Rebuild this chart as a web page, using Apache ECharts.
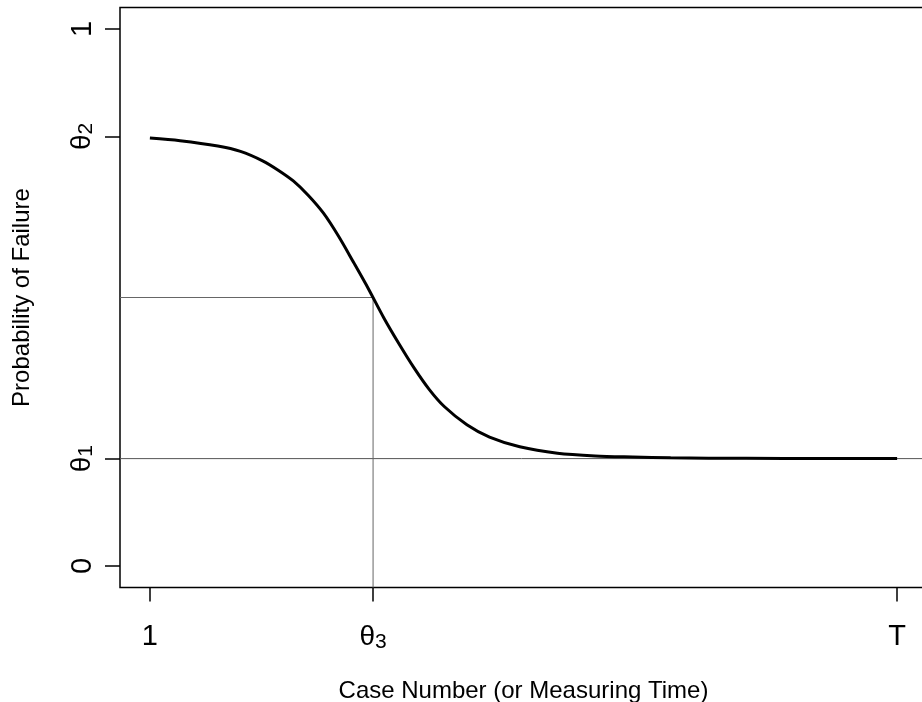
<!DOCTYPE html>
<html>
<head>
<meta charset="utf-8">
<script src="https://cdn.jsdelivr.net/npm/echarts@6/dist/echarts.min.js"></script>
<style>html,body{margin:0;padding:0;background:#fff;}#c{width:922px;height:702px;}</style>
</head>
<body>
<div id="c"></div>
<script>
// Curve
const curveX = [1, 5, 10, 13, 16, 18, 20, 22, 24, 26, 28, 30, 32, 34, 36, 38, 40, 43, 46, 50, 55, 60, 65, 70, 80, 90, 100];
const curveY = [0.797, 0.792, 0.782, 0.772, 0.754, 0.737, 0.717, 0.690, 0.657, 0.614, 0.565, 0.515, 0.462, 0.414, 0.369, 0.329, 0.297, 0.263, 0.240, 0.222, 0.210, 0.205, 0.203, 0.2015, 0.2005, 0.200, 0.200];

// Parameters / tick values
const theta1 = 0.2;
const theta2 = 0.8;
const theta3 = 30.57;
const midY = 0.5;
const xStart = 1;
const xEnd = 100;

const xTickValues = [1, theta3, 100];
const xTickLabels = ['1', '{t|θ}{s|3}', 'T'];
const yTickValues = [0, theta1, theta2, 1];
const yTickLabels = ['0', '{t|θ}{s|1}', '{t|θ}{s|2}', '1'];

const xPad = (xEnd - xStart) * 0.04;
const xMin = xStart - xPad, xMax = xEnd + xPad;
const yMin = -0.04, yMax = 1.04;

const FONT = '"Liberation Sans", Arial, Helvetica, sans-serif';
const rich = {
  t: { fontSize: 28, lineHeight: 30, fontFamily: FONT, color: '#000' },
  s: { fontSize: 21, lineHeight: 21, verticalAlign: 'bottom', fontFamily: FONT, color: '#000' }
};

function lookup(values, labels) {
  return function (v) {
    for (let i = 0; i < values.length; i++) {
      if (Math.abs(values[i] - v) < 1e-6) return labels[i];
    }
    return '';
  };
}

const chart = echarts.init(document.getElementById('c'), null, { renderer: 'canvas' });
chart.setOption({
  animation: false,
  backgroundColor: '#fff',
  grid: {
    left: 120, top: 7.5, width: 807, height: 580,
    outerBoundsMode: 'none', containLabel: false,
    show: true, borderColor: '#000', borderWidth: 1.5, backgroundColor: 'transparent'
  },
  xAxis: {
    type: 'value', min: xMin, max: xMax,
    splitLine: { show: false },
    axisLine: { show: false, onZero: false },
    axisTick: { show: true, length: 14, inside: false, customValues: xTickValues, lineStyle: { color: '#000', width: 1.5 } },
    axisLabel: {
      customValues: xTickValues, formatter: lookup(xTickValues, xTickLabels),
      margin: 35, fontSize: 29, fontFamily: FONT, color: '#000', rich: rich
    },
    name: 'Case Number (or Measuring Time)', nameLocation: 'middle', nameGap: 92,
    nameTextStyle: { fontSize: 24, fontFamily: FONT, color: '#000' }
  },
  yAxis: {
    type: 'value', min: yMin, max: yMax,
    splitLine: { show: false },
    axisLine: { show: false, onZero: false },
    axisTick: { show: true, length: 15, inside: false, customValues: yTickValues, lineStyle: { color: '#000', width: 1.5 } },
    axisLabel: {
      customValues: yTickValues, formatter: lookup(yTickValues, yTickLabels),
      rotate: 90, margin: 23, fontSize: 29, fontFamily: FONT, color: '#000', rich: rich
    },
    name: 'Probability of Failure', nameLocation: 'middle', nameGap: 86, nameRotate: 90,
    nameTextStyle: { fontSize: 24, fontFamily: FONT, color: '#000' }
  },
  series: [
    {
      type: 'line', data: [[xMin, theta1], [xMax, theta1]],
      symbol: 'none', lineStyle: { color: '#555', width: 1 }, silent: true
    },
    {
      type: 'line', data: [[xMin, midY], [theta3, midY], [theta3, yMin]],
      symbol: 'none', lineStyle: { color: '#666', width: 1 }, silent: true
    },
    {
      type: 'line', data: curveX.map((x, i) => [x, curveY[i]]),
      symbol: 'none', smooth: 0.3,
      lineStyle: { color: '#000', width: 3 }, silent: true, z: 5
    }
  ]
});
</script>
</body>
</html>
